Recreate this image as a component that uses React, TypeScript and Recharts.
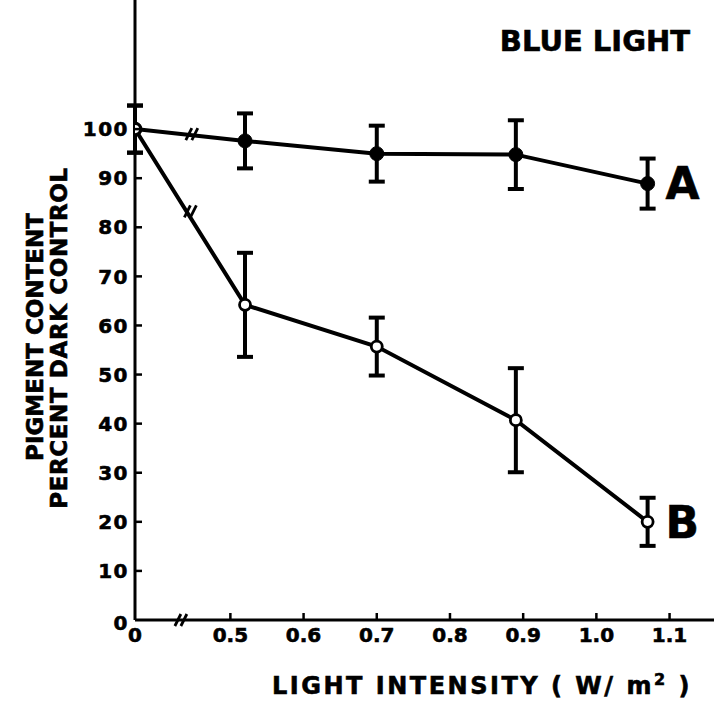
import React from 'react';
import {
  ComposedChart,
  Line,
  XAxis,
  YAxis,
  ErrorBar,
  ReferenceDot,
} from 'recharts';

// light intensity (W/m2) for each measurement
const INTENSITY = [0, 0.52, 0.7, 0.89, 1.07];
// curve A: filled circles
const SERIES_A = [100, 97.6, 95.0, 94.8, 88.9];
const ERR_A = [4.8, 5.6, 5.7, 7.0, 5.1];
// curve B: open circles
const SERIES_B = [100, 64.2, 55.7, 40.7, 20.0];
const ERR_B = [4.8, 10.6, 5.9, 10.6, 4.9];

const X_TICK_LABELS = ['0', '0.5', '0.6', '0.7', '0.8', '0.9', '1.0', '1.1'];
const Y_TICKS = [0, 10, 20, 30, 40, 50, 60, 70, 80, 90, 100];

// the axis is broken between 0 and 0.5
const BREAK_SHIFT = 0.3697;
const BREAK_X = 0.064;
const X_MAX = 0.791;
const Y_MAX = 126.3;

const toAxis = (v: number) => (v === 0 ? 0 : v - BREAK_SHIFT);
const X_TICKS = X_TICK_LABELS.map((l) => toAxis(parseFloat(l)));

const data = INTENSITY.map((x, i) => ({
  xd: toAxis(x),
  a: SERIES_A[i],
  errA: ERR_A[i],
  b: SERIES_B[i],
  errB: ERR_B[i],
}));

// value of a series where the break mark sits on its first segment
const atBreak = (ys: number[]) =>
  ys[0] + ((ys[1] - ys[0]) * BREAK_X) / (data[1].xd - data[0].xd);

const FONT = '"DejaVu Sans", sans-serif';
const INK = { fill: '#000', stroke: '#000', strokeWidth: 0.6 };
const last = data.length - 1;

function XTick({ x, y, payload, index }: any) {
  return (
    <g>
      {index > 0 && <line x1={x} y1={y} x2={x} y2={y - 7} stroke="#000" strokeWidth={2.5} />}
      <text x={x} y={y + 22} textAnchor="middle" fontFamily={FONT} fontWeight="bold" fontSize={20} {...INK}>
        {X_TICK_LABELS[index] ?? payload.value}
      </text>
    </g>
  );
}

function YTick({ x, y, payload }: any) {
  return (
    <g>
      {payload.value > 0 && <line x1={x} y1={y} x2={x + 7} y2={y} stroke="#000" strokeWidth={2.5} />}
      <text
        x={x - 6}
        y={payload.value === 0 ? y + 3 : y}
        dy="0.36em"
        textAnchor="end"
        fontFamily={FONT}
        fontWeight="bold"
        fontSize={20}
        letterSpacing={1.5}
        {...INK}
      >
        {payload.value}
      </text>
    </g>
  );
}

function BreakMark({ cx, cy }: any) {
  return (
    <g stroke="#000" strokeWidth={2.8}>
      <line x1={cx - 7} y1={cy + 6} x2={cx - 1} y2={cy - 6} />
      <line x1={cx - 1} y1={cy + 6} x2={cx + 5} y2={cy - 6} />
    </g>
  );
}

const makeDot = (open: boolean, letter: string) => (props: any) => {
  const { cx, cy, index } = props;
  return (
    <g key={`dot-${letter}-${index}`}>
      {open ? (
        <circle cx={cx} cy={cy} r={5.5} fill="#fff" stroke="#000" strokeWidth={2.8} />
      ) : (
        <circle cx={cx} cy={cy} r={7} fill="#000" stroke="#000" />
      )}
      {index === last && (
        <text x={cx + 18} y={cy} dy="0.36em" fontFamily={FONT} fontWeight="bold" fontSize={44} {...INK}>
          {letter}
        </text>
      )}
    </g>
  );
};

export default function App() {
  return (
    <div style={{ position: 'absolute', left: 0, top: 0, width: 714, height: 702, background: '#fff' }}>
      <ComposedChart width={714} height={702} data={data} margin={{ top: 0, right: 0, bottom: 0, left: 0 }}>
        <XAxis
          type="number"
          dataKey="xd"
          domain={[0, X_MAX]}
          ticks={X_TICKS}
          interval={0}
          allowDataOverflow
          height={82}
          axisLine={{ stroke: '#000', strokeWidth: 3 }}
          tickLine={false}
          tickSize={0}
          tickMargin={0}
          tick={<XTick />}
        />
        <YAxis
          type="number"
          domain={[0, Y_MAX]}
          ticks={Y_TICKS}
          interval={0}
          allowDataOverflow
          width={135}
          axisLine={{ stroke: '#000', strokeWidth: 3 }}
          tickLine={false}
          tickSize={0}
          tickMargin={0}
          tick={<YTick />}
        />
        <Line
          dataKey="a"
          stroke="#000"
          strokeWidth={4}
          isAnimationActive={false}
          dot={makeDot(false, 'A')}
        >
          <ErrorBar dataKey="errA" width={8} strokeWidth={4} stroke="#000" direction="y" />
        </Line>
        <Line
          dataKey="b"
          stroke="#000"
          strokeWidth={4}
          isAnimationActive={false}
          dot={makeDot(true, 'B')}
        >
          <ErrorBar dataKey="errB" width={8} strokeWidth={4} stroke="#000" direction="y" />
        </Line>
        <ReferenceDot x={BREAK_X} y={0} shape={<BreakMark />} ifOverflow="visible" />
        <ReferenceDot x={BREAK_X + 0.015} y={atBreak(SERIES_A)} shape={<BreakMark />} ifOverflow="visible" />
        <ReferenceDot x={BREAK_X + 0.013} y={atBreak(SERIES_B) - 1.5} shape={<BreakMark />} ifOverflow="visible" />
        <text x={690} y={51} textAnchor="end" fontFamily={FONT} fontWeight="bold" fontSize={29} {...INK}>
          BLUE LIGHT
        </text>
        <text x={482} y={694} textAnchor="middle" fontFamily={FONT} fontWeight="bold" fontSize={24} letterSpacing={2.5} {...INK}>
          LIGHT INTENSITY ( W/ m
          <tspan fontSize={16} dy={-9}>2</tspan>
          <tspan dy={9}> )</tspan>
        </text>
        <text
          x={43}
          y={337}
          transform="rotate(-90, 43, 337)"
          textAnchor="middle"
          fontFamily={FONT}
          fontWeight="bold"
          fontSize={23}
          {...INK}
        >
          PIGMENT CONTENT
        </text>
        <text
          x={67}
          y={338}
          transform="rotate(-90, 67, 338)"
          textAnchor="middle"
          fontFamily={FONT}
          fontWeight="bold"
          fontSize={23}
          letterSpacing={0.6}
          {...INK}
        >
          PERCENT DARK CONTROL
        </text>
      </ComposedChart>
    </div>
  );
}
